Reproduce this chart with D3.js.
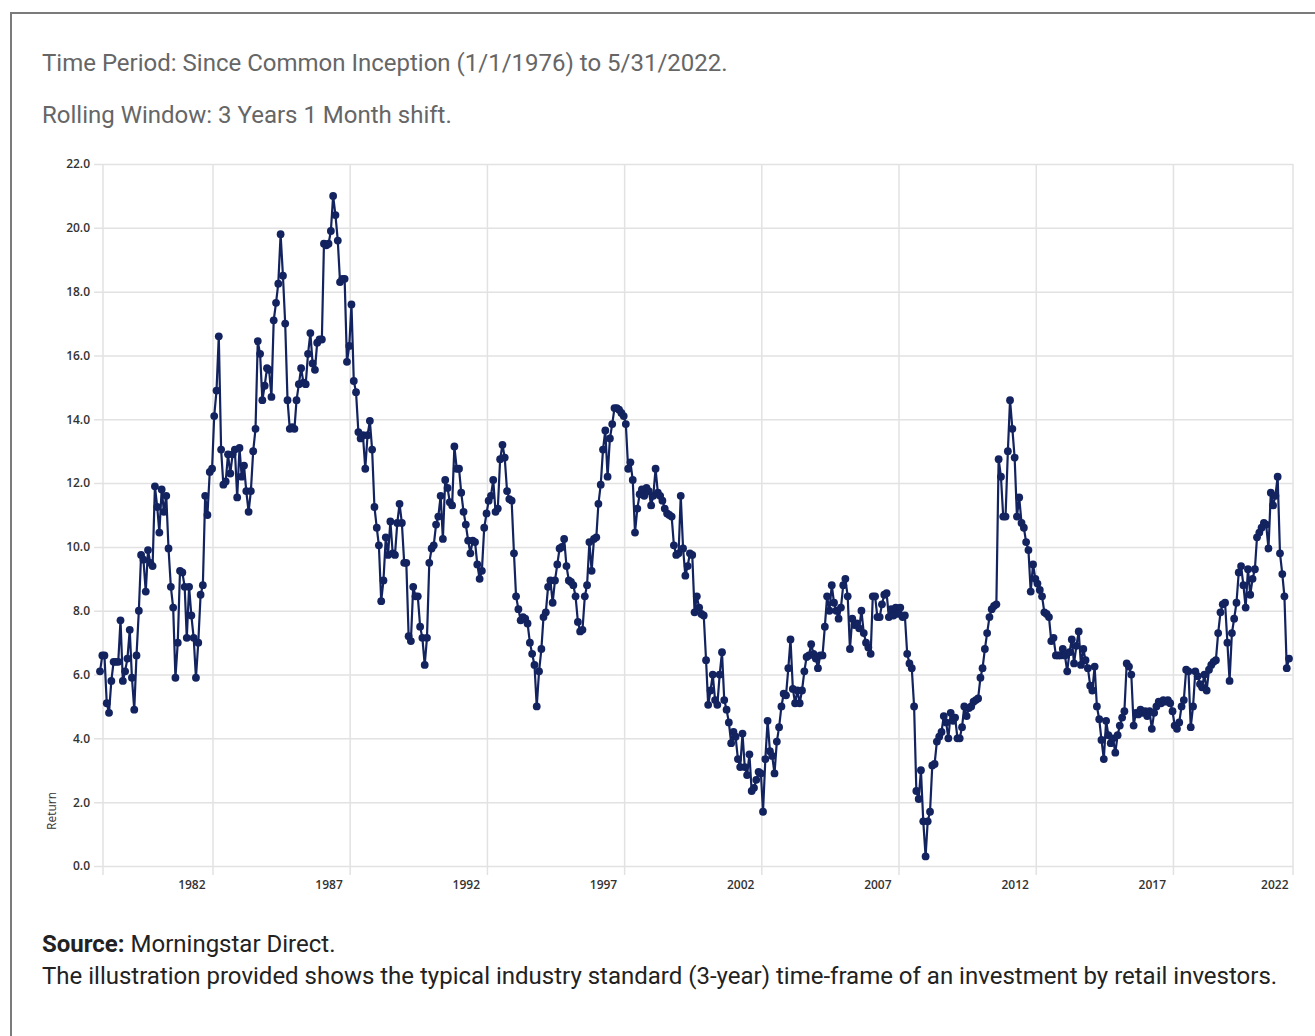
<!DOCTYPE html>
<html>
<head>
<meta charset="utf-8">
<script src="https://cdn.jsdelivr.net/npm/d3@7"></script>
<style>
  body { margin: 0; background: #fff; }
  svg { display: block; }
</style>
</head>
<body>
<svg id="chart" width="1315" height="1036"></svg>
<script>
// Rolling 3-year returns, monthly, Jan 1979 .. May 2022
const returns1979 = [6.1, 6.6, 6.6, 5.1, 4.8, 5.8, 6.4, 6.4, 6.4, 7.7, 5.8, 6.1];
const returns1980s = [
    6.5, 7.4, 5.9, 4.9, 6.6, 8.0, 9.75, 9.6, 8.6, 9.9, 9.5, 9.4,            // 1980
    11.9, 11.25, 10.45, 11.8, 11.1, 11.6, 9.95, 8.75, 8.1, 5.9, 7.0, 9.25,  // 1981
    9.2, 8.75, 7.15, 8.75, 7.85, 7.15, 5.9, 7.0, 8.5, 8.8, 11.6, 11.0,      // 1982
    12.35, 12.45, 14.1, 14.9, 16.6, 13.05, 11.95, 12.05, 12.9, 12.3, 12.9, 13.05, // 1983
    11.55, 13.1, 12.2, 12.55, 11.75, 11.1, 11.75, 13.0, 13.7, 16.45, 16.05, 14.6, // 1984
    15.05, 15.6, 15.55, 14.7, 17.1, 17.65, 18.25, 19.8, 18.5, 17.0, 14.6, 13.7,   // 1985
    13.75, 13.7, 14.6, 15.1, 15.6, 15.15, 15.1, 16.05, 16.7, 15.75, 15.55, 16.4,  // 1986
    16.5, 16.5, 19.5, 19.45, 19.5, 19.9, 21.0, 20.4, 19.6, 18.3, 18.4, 18.4,      // 1987
    15.8, 16.3, 17.6, 15.2, 14.85, 13.6, 13.4, 13.5, 12.45, 13.5, 13.95, 13.05,   // 1988
    11.25, 10.6, 10.05, 8.3, 8.95, 10.3, 9.75, 10.8, 9.8, 9.75, 10.75, 11.35      // 1989
];
const returns1990s = [
    10.75, 9.5, 9.5, 7.2, 7.05, 8.75, 8.45, 8.45, 7.5, 7.15, 6.3, 7.15,     // 1990
    9.5, 9.95, 10.05, 10.7, 10.95, 11.6, 10.25, 12.1, 11.85, 11.4, 11.3, 13.15, // 1991
    12.45, 12.45, 11.7, 11.1, 10.7, 10.2, 9.8, 10.2, 10.15, 9.45, 9.0, 9.25,    // 1992
    10.6, 11.05, 11.45, 11.6, 12.1, 11.1, 11.2, 12.75, 13.2, 12.8, 11.75, 11.5, // 1993
    11.45, 9.8, 8.45, 8.05, 7.7, 7.8, 7.75, 7.6, 7.0, 6.65, 6.3, 5.0,           // 1994
    6.1, 6.8, 7.8, 7.95, 8.75, 8.95, 8.25, 8.95, 9.45, 9.95, 10.0, 10.25,       // 1995
    9.4, 8.95, 8.9, 8.8, 8.45, 7.65, 7.35, 7.4, 8.45, 8.8, 10.15, 9.25,         // 1996
    10.25, 10.3, 11.35, 11.95, 13.05, 13.65, 12.2, 13.4, 13.85, 14.35, 14.35, 14.3, // 1997
    14.2, 14.1, 13.85, 12.45, 12.65, 12.1, 10.45, 11.2, 11.65, 11.8, 11.6, 11.85,   // 1998
    11.75, 11.3, 11.6, 12.45, 11.7, 11.6, 11.45, 11.2, 11.05, 11.0, 10.95, 10.05    // 1999
];
const returns2000s = [
    9.75, 9.8, 11.6, 9.95, 9.1, 9.4, 9.8, 9.75, 7.95, 8.45, 8.1, 7.9,       // 2000
    7.85, 6.45, 5.05, 5.5, 6.0, 5.2, 5.05, 6.0, 6.7, 5.2, 4.9, 4.5,         // 2001
    3.85, 4.2, 4.05, 3.35, 3.1, 4.15, 3.1, 2.85, 3.5, 2.35, 2.45, 2.7,      // 2002
    2.95, 2.9, 1.7, 3.35, 4.55, 3.6, 3.45, 2.9, 3.9, 4.35, 5.0, 5.4,        // 2003
    5.35, 6.2, 7.1, 5.55, 5.1, 5.5, 5.1, 5.5, 6.1, 6.55, 6.6, 6.95,         // 2004
    6.65, 6.5, 6.2, 6.6, 6.6, 7.5, 8.45, 8.0, 8.8, 8.25, 8.0, 7.75,         // 2005
    8.1, 8.8, 9.0, 8.45, 6.8, 7.75, 7.55, 7.6, 7.45, 8.0, 7.3, 7.0,         // 2006
    6.85, 6.65, 8.45, 8.45, 7.8, 7.8, 8.2, 8.5, 8.55, 7.8, 8.05, 7.85,      // 2007
    8.1, 7.9, 8.1, 7.8, 7.85, 6.65, 6.35, 6.2, 5.0, 2.35, 2.1, 3.0,         // 2008
    1.4, 0.3, 1.4, 1.7, 3.15, 3.2, 3.9, 4.05, 4.2, 4.7, 4.5, 4.0            // 2009
];
const returns2010s = [
    4.8, 4.55, 4.65, 4.0, 4.0, 4.35, 5.0, 4.7, 4.95, 5.0, 5.15, 5.2,        // 2010
    5.25, 5.9, 6.2, 6.8, 7.3, 7.8, 8.05, 8.15, 8.2, 12.75, 12.2, 10.95,     // 2011
    10.95, 13.0, 14.6, 13.7, 12.8, 10.95, 11.55, 10.75, 10.6, 10.15, 9.9, 8.6, // 2012
    9.45, 9.0, 8.85, 8.65, 8.45, 7.95, 7.9, 7.8, 7.05, 7.15, 6.6, 6.6,      // 2013
    6.6, 6.8, 6.6, 6.1, 6.7, 7.1, 6.35, 6.9, 7.35, 6.3, 6.8, 6.45,          // 2014
    6.2, 5.65, 5.5, 6.25, 5.0, 4.6, 3.95, 3.35, 4.55, 4.1, 3.85, 4.0,       // 2015
    3.55, 4.1, 4.4, 4.65, 4.85, 6.35, 6.25, 6.0, 4.4, 4.8, 4.75, 4.9,       // 2016
    4.8, 4.85, 4.7, 4.85, 4.3, 4.8, 5.0, 5.15, 5.1, 5.2, 5.15, 5.2,         // 2017
    5.1, 4.85, 4.4, 4.3, 4.5, 5.0, 5.2, 6.15, 6.1, 4.35, 5.0, 6.1,          // 2018
    5.95, 5.7, 5.6, 6.0, 5.5, 6.15, 6.3, 6.4, 6.45, 7.3, 7.95, 8.2          // 2019
];
const returns2020s = [
    8.25, 7.0, 5.8, 7.3, 7.75, 8.25, 9.2, 9.4, 8.8, 8.1, 9.3, 8.5,          // 2020
    9.0, 9.3, 10.3, 10.45, 10.6, 10.75, 10.7, 9.95, 11.7, 11.3, 11.6, 12.2, // 2021
    9.8, 9.15, 8.45, 6.2, 6.5                                               // 2022 (to May)
];

const tickYears = [1982, 1987, 1992, 1997, 2002, 2007, 2012, 2017, 2022];
const yTicks = [0, 2, 4, 6, 8, 10, 12, 14, 16, 18, 20, 22];

const headerLines = [
    "Time Period: Since Common Inception (1/1/1976) to 5/31/2022.",
    "Rolling Window: 3 Years 1 Month shift."
];
const footerNote = "The illustration provided shows the typical industry standard (3-year) time-frame of an investment by retail investors.";

const colors = {
    line: "#13235f",
    grid: "#e2e2e2",
    axisText: "#333",
    header: "#666",
    footer: "#222",
    frame: "#7b7b7b"
};

const startMonth = new Date(1979, 0, 1);
const values = [].concat(returns1979, returns1980s, returns1990s, returns2000s, returns2010s, returns2020s);
const data = values.map((v, i) => ({ date: d3.timeMonth.offset(startMonth, i), value: v }));

const svg = d3.select("#chart");

// outer frame (only top and left edges are inside the window)
svg.append("path")
    .attr("d", "M11,1036 V13 H1315")
    .attr("fill", "none")
    .attr("stroke", colors.frame)
    .attr("stroke-width", 2);

// header
svg.selectAll(".header")
    .data(headerLines).enter().append("text")
    .attr("class", "header")
    .attr("x", 42).attr("y", (d, i) => 71 + i * 52)
    .attr("font-family", "Roboto, sans-serif").attr("font-size", "24px")
    .attr("fill", colors.header)
    .text(d => d);

// scales
const plot = { left: 103, right: 1293, top: 164, bottom: 866 };
const x = d3.scaleTime()
    .domain([startMonth, data[data.length - 1].date])
    .range([100, 1289]);
const y = d3.scaleLinear().domain([0, 22]).range([plot.bottom, plot.top]);

const g = svg.append("g");

// horizontal grid + tick marks
g.append("g")
    .attr("transform", `translate(${plot.left},0)`)
    .call(d3.axisLeft(y).tickValues(yTicks).tickSize(-(plot.right - plot.left)).tickPadding(13).tickFormat(d3.format(".1f")))
    .call(ax => ax.select(".domain").remove())
    .call(ax => ax.selectAll(".tick line").attr("x1", -9).attr("stroke", colors.grid).attr("stroke-width", 1.5))
    .call(ax => ax.selectAll(".tick text")
        .attr("font-family", "'Open Sans', sans-serif").attr("font-size", "12px")
        .attr("font-weight", 600).attr("fill", colors.axisText));

// vertical grid lines sit a little after each labelled month
const gridDates = tickYears.map(yr => new Date(yr + 1, 1, 13)).filter(d => x(d) < plot.right);
g.append("g").selectAll("line")
    .data(gridDates).enter().append("line")
    .attr("x1", d => x(d)).attr("x2", d => x(d))
    .attr("y1", plot.top).attr("y2", plot.bottom + 9)
    .attr("stroke", colors.grid).attr("stroke-width", 1.5);

// plot edges
g.append("g").selectAll("line")
    .data([plot.left, plot.right]).enter().append("line")
    .attr("x1", d => d).attr("x2", d => d)
    .attr("y1", plot.top).attr("y2", plot.bottom + 9)
    .attr("stroke", colors.grid).attr("stroke-width", 1.5);

// x labels (May of each labelled year); the last one is kept inside the plot
const tickDates = tickYears.map(yr => new Date(yr, 4, 1));
g.append("g")
    .attr("transform", `translate(0,${plot.bottom})`)
    .call(d3.axisBottom(x).tickValues(tickDates).tickSize(0).tickPadding(14).tickFormat(d3.timeFormat("%Y")))
    .call(ax => ax.select(".domain").remove())
    .call(ax => ax.selectAll(".tick text")
        .attr("font-family", "'Open Sans', sans-serif").attr("font-size", "12px")
        .attr("font-weight", 600).attr("fill", colors.axisText)
        .attr("text-anchor", (d, i) => i === tickDates.length - 1 ? "end" : "middle")
        .attr("dx", (d, i) => i === tickDates.length - 1 ? -1 : 0));

// y axis title
g.append("text")
    .attr("transform", "translate(56,811) rotate(-90)")
    .attr("text-anchor", "middle")
    .attr("font-family", "'Open Sans', sans-serif").attr("font-size", "12px")
    .attr("fill", colors.axisText)
    .text("Return");

// series
const line = d3.line().x(d => x(d.date)).y(d => y(d.value));
g.append("path")
    .datum(data)
    .attr("d", line)
    .attr("fill", "none")
    .attr("stroke", colors.line)
    .attr("stroke-width", 2.2)
    .attr("stroke-linejoin", "round");

g.append("g").selectAll("circle")
    .data(data).enter().append("circle")
    .attr("cx", d => x(d.date)).attr("cy", d => y(d.value))
    .attr("r", 3.9)
    .attr("fill", colors.line);

// footer
const src = svg.append("text")
    .attr("x", 42).attr("y", 952)
    .attr("font-family", "Roboto, sans-serif").attr("font-size", "24px")
    .attr("fill", colors.footer);
src.append("tspan").attr("font-weight", 700).text("Source:");
src.append("tspan").text(" Morningstar Direct.");

svg.append("text")
    .attr("x", 42).attr("y", 984)
    .attr("font-family", "Roboto, sans-serif").attr("font-size", "24px")
    .attr("fill", colors.footer)
    .text(footerNote);
</script>
</body>
</html>
